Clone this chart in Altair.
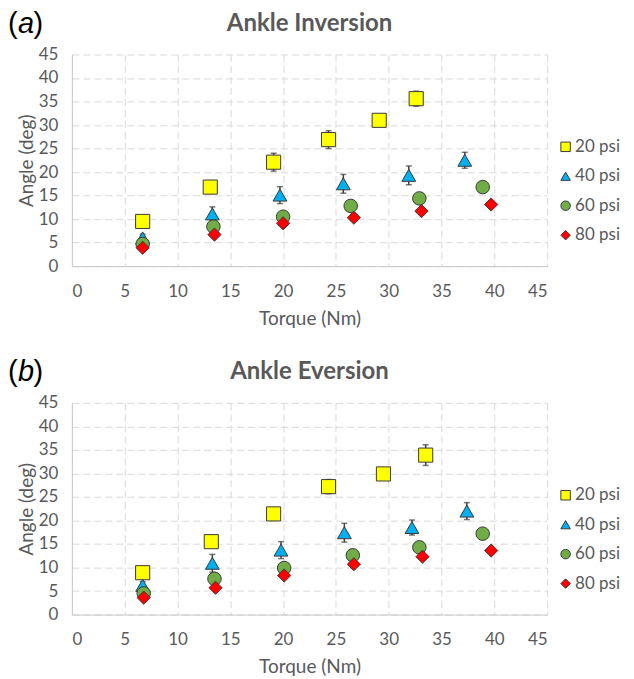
import altair as alt
import pandas as pd

series = ["20 psi", "40 psi", "60 psi", "80 psi"]
colors = ["#FFFF00", "#00B0F0", "#70AD47", "#FF0000"]
shapes = ["square", "triangle-up", "circle", "diamond"]
marker_sizes = [200, 175, 200, 150]
ticks_vals = [0, 5, 10, 15, 20, 25, 30, 35, 40, 45]

# (a) Ankle Inversion
inv_x = {
    "20 psi": [6.7, 13.1, 19.1, 24.3, 29.1, 32.6],
    "40 psi": [6.7, 13.3, 19.7, 25.7, 31.9, 37.2],
    "60 psi": [6.7, 13.4, 20.0, 26.4, 32.9, 38.9],
    "80 psi": [6.7, 13.5, 20.0, 26.7, 33.1, 39.7],
}
inv_y = {
    "20 psi": [9.5, 16.8, 22.1, 26.9, 31.0, 35.6],
    "40 psi": [6.0, 11.1, 15.1, 17.5, 19.3, 22.5],
    "60 psi": [4.7, 8.4, 10.5, 12.8, 14.4, 16.8],
    "80 psi": [3.9, 6.7, 9.1, 10.3, 11.7, 13.1],
}
inv_err = {
    "20 psi": [0.8, 0.8, 1.9, 1.9, 0.8, 1.6],
    "40 psi": [0.8, 1.5, 1.8, 2.0, 2.0, 1.7],
    "60 psi": [0.5, 0.5, 0.5, 0.5, 0.5, 0.5],
    "80 psi": [0.5, 0.5, 0.5, 0.5, 0.5, 0.5],
}

# (b) Ankle Eversion
ev_x = {
    "20 psi": [6.7, 13.2, 19.1, 24.3, 29.5, 33.5],
    "40 psi": [6.7, 13.3, 19.8, 25.8, 32.2, 37.4],
    "60 psi": [6.8, 13.5, 20.1, 26.6, 32.9, 38.9],
    "80 psi": [6.8, 13.6, 20.1, 26.7, 33.2, 39.7],
}
ev_y = {
    "20 psi": [8.9, 15.5, 21.4, 27.2, 29.9, 33.9],
    "40 psi": [6.2, 10.9, 13.7, 17.4, 18.5, 22.0],
    "60 psi": [4.5, 7.6, 9.9, 12.6, 14.3, 17.2],
    "80 psi": [3.6, 5.7, 8.3, 10.7, 12.3, 13.6],
}
ev_err = {
    "20 psi": [0.8, 0.8, 0.8, 1.5, 0.8, 2.2],
    "40 psi": [0.8, 1.9, 1.8, 2.0, 1.6, 1.8],
    "60 psi": [0.5, 0.5, 0.5, 0.5, 0.5, 0.5],
    "80 psi": [0.5, 0.5, 0.5, 0.5, 0.5, 0.5],
}

titles = ["Ankle Inversion", "Ankle Eversion"]
letters = ["a", "b"]

GRAY = "#595959"
FONT = "Lato"
W, H = 476, 212


def make_df(xs, ys, errs):
    rows = []
    for s in series:
        for x, y, e in zip(xs[s], ys[s], errs[s]):
            rows.append({"series": s, "torque": x, "angle": y,
                         "lo": y - e, "hi": y + e})
    return pd.DataFrame(rows)


def text_layer(t, x, y, **kw):
    return alt.Chart(pd.DataFrame({"t": [t]})).mark_text(
        baseline="middle", **kw).encode(
        x=alt.value(x), y=alt.value(y), text="t:N")


def X(field):
    return alt.X(field, type="quantitative",
                 scale=alt.Scale(domain=[0, 45], nice=False, zero=False),
                 axis=alt.Axis(values=ticks_vals, tickCount=10,
                               title="Torque (Nm)", labelPadding=17,
                               titlePadding=10, labelOverlap=False))


def Y(field):
    return alt.Y(field, type="quantitative",
                 scale=alt.Scale(domain=[0, 45], nice=False, zero=False),
                 axis=alt.Axis(values=ticks_vals, tickCount=10,
                               title="Angle (deg)", labelPadding=14,
                               titlePadding=2, labelOverlap=False))


def panel(df, title, letter):
    base = alt.Chart(df)
    rules = base.mark_rule(color="#404040", strokeWidth=1.5).encode(
        x=X("torque"), y=Y("lo"), y2="hi:Q")
    cap_hi = base.mark_tick(orient="horizontal", size=6, thickness=1.5,
                            color="#404040").encode(x=X("torque"), y=Y("hi"))
    cap_lo = base.mark_tick(orient="horizontal", size=6, thickness=1.5,
                            color="#404040").encode(x=X("torque"), y=Y("lo"))
    pts = base.mark_point(filled=True, opacity=1, stroke="#3A3A3A",
                          strokeWidth=1).encode(
        x=X("torque"),
        y=Y("angle"),
        color=alt.Color("series:N",
                        scale=alt.Scale(domain=series, range=colors),
                        legend=alt.Legend(title=None, orient="none",
                                          legendX=486, legendY=84,
                                          padding=0, rowPadding=11.5,
                                          labelOffset=1, symbolSize=90,
                                          symbolStrokeColor="#3A3A3A",
                                          symbolStrokeWidth=1,
                                          labelFont=FONT, labelFontSize=17,
                                          labelColor=GRAY)),
        shape=alt.Shape("series:N",
                        scale=alt.Scale(domain=series, range=shapes),
                        legend=alt.Legend(title=None, orient="none",
                                          legendX=486, legendY=84)),
        size=alt.Size("series:N",
                      scale=alt.Scale(domain=series, range=marker_sizes),
                      legend=None),
    )
    ty = -31
    t_title = text_layer(title, W / 2, ty, align="center", font=FONT,
                         fontSize=24, fontWeight="bold", color=GRAY)
    p1 = text_layer("(", -64, ty, align="left", font="Liberation Sans",
                    fontSize=29, color="black")
    p2 = text_layer(letter, -54, ty, align="left", font="Liberation Sans",
                    fontSize=29, fontStyle="italic", color="black")
    p3 = text_layer(")", -38.5, ty, align="left", font="Liberation Sans",
                    fontSize=29, color="black")
    return alt.layer(rules, cap_hi, cap_lo, pts, t_title, p1, p2, p3
                     ).properties(width=W, height=H)


df_a = make_df(inv_x, inv_y, inv_err)
df_b = make_df(ev_x, ev_y, ev_err)

chart = alt.vconcat(
    panel(df_a, titles[0], letters[0]),
    panel(df_b, titles[1], letters[1]),
    spacing=30,
).resolve_legend(color="independent", shape="independent").properties(
    padding={"left": 0, "top": 1, "right": 5, "bottom": 0}
).configure_view(stroke=None).configure_axis(
    grid=True, gridColor="#D9D9D9", gridDash=[7, 4], gridWidth=1,
    ticks=False, domainColor="#C8C8C8", domainWidth=1,
    labelFont=FONT, labelFontSize=17, labelColor=GRAY,
    titleFont=FONT, titleFontSize=19, titleFontWeight="normal",
    titleColor=GRAY,
)

chart.save("out.html", embed_options={"renderer": "svg", "actions": False})
